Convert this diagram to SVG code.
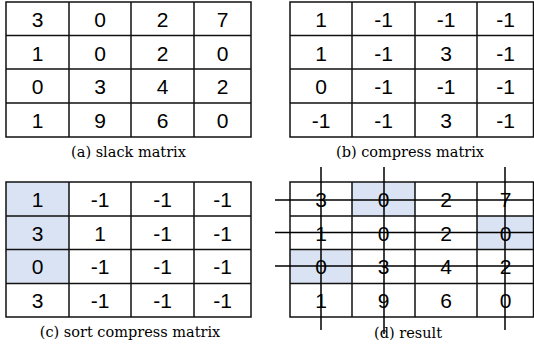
<svg xmlns="http://www.w3.org/2000/svg" width="534" height="345" viewBox="0 0 534 345">
<style>
.g{fill:none;stroke:#111;stroke-width:1.5}
.hl{fill:#dae3f3;stroke:none}
.n{font-family:"Liberation Sans",Arial,sans-serif;font-size:21px;fill:#000;text-anchor:middle}
.cap{font-family:"DejaVu Serif","Liberation Serif",serif;font-size:14.5px;fill:#000;text-anchor:middle}
.x{stroke:#000;stroke-width:1.5;fill:none}
</style>
<rect width="534" height="345" fill="#fff"/>
<g id="matrix-a">
<path class="g" d="M6 2H251V137H6Z M69 2V137 M131 2V137 M194 2V137 M6 35.5H251 M6 69H251 M6 103H251"/>
<g class="n">
<text x="37.5" y="26.5">3</text><text x="100" y="26.5">0</text><text x="162.5" y="26.5">2</text><text x="222.5" y="26.5">7</text>
<text x="37.5" y="60.5">1</text><text x="100" y="60.5">0</text><text x="162.5" y="60.5">2</text><text x="222.5" y="60.5">0</text>
<text x="37.5" y="94">0</text><text x="100" y="94">3</text><text x="162.5" y="94">4</text><text x="222.5" y="94">2</text>
<text x="37.5" y="128">1</text><text x="100" y="128">9</text><text x="162.5" y="128">6</text><text x="222.5" y="128">0</text>
</g>
<text class="cap" x="128.5" y="157">(a) slack matrix</text>
</g>
<g id="matrix-b">
<path class="g" d="M290 2H533.5V137H290Z M352 2V137 M415 2V137 M477 2V137 M290 35.5H533.5 M290 69H533.5 M290 103H533.5"/>
<g class="n">
<text x="321" y="26.5">1</text><text x="383.5" y="26.5">-1</text><text x="446" y="26.5">-1</text><text x="505.5" y="26.5">-1</text>
<text x="321" y="60.5">1</text><text x="383.5" y="60.5">-1</text><text x="446" y="60.5">3</text><text x="505.5" y="60.5">-1</text>
<text x="321" y="94">0</text><text x="383.5" y="94">-1</text><text x="446" y="94">-1</text><text x="505.5" y="94">-1</text>
<text x="321" y="128">-1</text><text x="383.5" y="128">-1</text><text x="446" y="128">3</text><text x="505.5" y="128">-1</text>
</g>
<text class="cap" x="410" y="157">(b) compress matrix</text>
</g>
<g id="matrix-c">
<rect class="hl" x="6" y="182" width="63" height="101.5"/>
<path class="g" d="M6 182H251V317H6Z M69 182V317 M131 182V317 M194 182V317 M6 216H251 M6 249.5H251 M6 283.5H251"/>
<g class="n">
<text x="37.5" y="207">1</text><text x="100" y="207">-1</text><text x="162.5" y="207">-1</text><text x="222.5" y="207">-1</text>
<text x="37.5" y="240.5">3</text><text x="100" y="240.5">1</text><text x="162.5" y="240.5">-1</text><text x="222.5" y="240.5">-1</text>
<text x="37.5" y="274">0</text><text x="100" y="274">-1</text><text x="162.5" y="274">-1</text><text x="222.5" y="274">-1</text>
<text x="37.5" y="308">3</text><text x="100" y="308">-1</text><text x="162.5" y="308">-1</text><text x="222.5" y="308">-1</text>
</g>
<text class="cap" x="130" y="337">(c) sort compress matrix</text>
</g>
<g id="matrix-d">
<rect class="hl" x="352" y="182" width="63" height="34"/>
<rect class="hl" x="477" y="216" width="57" height="33.5"/>
<rect class="hl" x="290" y="249.5" width="62" height="34"/>
<path class="g" d="M290 182H533.5V317H290Z M352 182V317 M415 182V317 M477 182V317 M290 216H533.5 M290 249.5H533.5 M290 283.5H533.5"/>
<g class="n">
<text x="321" y="207">3</text><text x="383.5" y="207">0</text><text x="446" y="207">2</text><text x="505.5" y="207">7</text>
<text x="321" y="240.5">1</text><text x="383.5" y="240.5">0</text><text x="446" y="240.5">2</text><text x="505.5" y="240.5">0</text>
<text x="321" y="274">0</text><text x="383.5" y="274">3</text><text x="446" y="274">4</text><text x="505.5" y="274">2</text>
<text x="321" y="308">1</text><text x="383.5" y="308">9</text><text x="446" y="308">6</text><text x="505.5" y="308">0</text>
</g>
<text class="cap" x="408" y="338">(d) result</text>
</g>
<g id="connectors">
<path class="x" d="M275 200H534 M275 232.5H534 M275 266H534 M321 167V330 M384 167V334 M505 167V330"/>
</g>
</svg>
